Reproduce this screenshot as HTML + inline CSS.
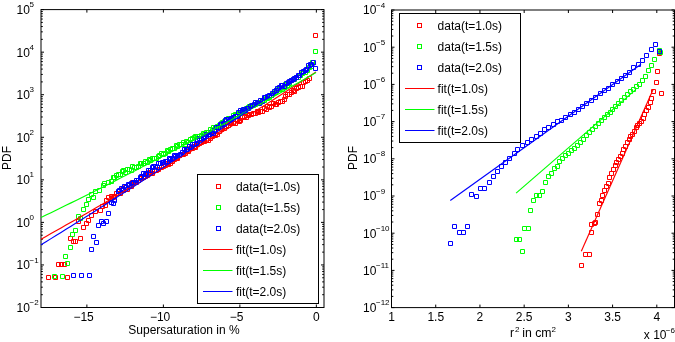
<!DOCTYPE html>
<html><head><meta charset="utf-8"><style>
html,body{margin:0;padding:0;background:#fff;}
svg{display:block;will-change:transform;}
text{font-family:"Liberation Sans", sans-serif;fill:#000;}
</style></head><body>
<svg width="675" height="342" viewBox="0 0 675 342">
<rect x="41" y="9.6" width="283" height="297.9" fill="none" stroke="#000" stroke-width="1"/>
<path d="M86.89 307.5v-3M86.89 9.6v3M163.38 307.5v-3M163.38 9.6v3M239.86 307.5v-3M239.86 9.6v3M316.35 307.5v-3M316.35 9.6v3M41 307.5h3M324 307.5h-3M41 294.69h1.8M324 294.69h-1.8M41 287.2h1.8M324 287.2h-1.8M41 281.88h1.8M324 281.88h-1.8M41 277.75h1.8M324 277.75h-1.8M41 274.38h1.8M324 274.38h-1.8M41 271.54h1.8M324 271.54h-1.8M41 269.07h1.8M324 269.07h-1.8M41 266.89h1.8M324 266.89h-1.8M41 264.94h3M324 264.94h-3M41 252.13h1.8M324 252.13h-1.8M41 244.64h1.8M324 244.64h-1.8M41 239.32h1.8M324 239.32h-1.8M41 235.2h1.8M324 235.2h-1.8M41 231.83h1.8M324 231.83h-1.8M41 228.98h1.8M324 228.98h-1.8M41 226.51h1.8M324 226.51h-1.8M41 224.33h1.8M324 224.33h-1.8M41 222.39h3M324 222.39h-3M41 209.57h1.8M324 209.57h-1.8M41 202.08h1.8M324 202.08h-1.8M41 196.76h1.8M324 196.76h-1.8M41 192.64h1.8M324 192.64h-1.8M41 189.27h1.8M324 189.27h-1.8M41 186.42h1.8M324 186.42h-1.8M41 183.95h1.8M324 183.95h-1.8M41 181.78h1.8M324 181.78h-1.8M41 179.83h3M324 179.83h-3M41 167.02h1.8M324 167.02h-1.8M41 159.52h1.8M324 159.52h-1.8M41 154.21h1.8M324 154.21h-1.8M41 150.08h1.8M324 150.08h-1.8M41 146.71h1.8M324 146.71h-1.8M41 143.86h1.8M324 143.86h-1.8M41 141.4h1.8M324 141.4h-1.8M41 139.22h1.8M324 139.22h-1.8M41 137.27h3M324 137.27h-3M41 124.46h1.8M324 124.46h-1.8M41 116.97h1.8M324 116.97h-1.8M41 111.65h1.8M324 111.65h-1.8M41 107.53h1.8M324 107.53h-1.8M41 104.16h1.8M324 104.16h-1.8M41 101.31h1.8M324 101.31h-1.8M41 98.84h1.8M324 98.84h-1.8M41 96.66h1.8M324 96.66h-1.8M41 94.71h3M324 94.71h-3M41 81.9h1.8M324 81.9h-1.8M41 74.41h1.8M324 74.41h-1.8M41 69.09h1.8M324 69.09h-1.8M41 64.97h1.8M324 64.97h-1.8M41 61.6h1.8M324 61.6h-1.8M41 58.75h1.8M324 58.75h-1.8M41 56.28h1.8M324 56.28h-1.8M41 54.1h1.8M324 54.1h-1.8M41 52.16h3M324 52.16h-3M41 39.35h1.8M324 39.35h-1.8M41 31.85h1.8M324 31.85h-1.8M41 26.54h1.8M324 26.54h-1.8M41 22.41h1.8M324 22.41h-1.8M41 19.04h1.8M324 19.04h-1.8M41 16.19h1.8M324 16.19h-1.8M41 13.72h1.8M324 13.72h-1.8M41 11.55h1.8M324 11.55h-1.8M41 9.6h3M324 9.6h-3" stroke="#000" stroke-width="1" fill="none"/>
<rect x="391.5" y="10" width="283" height="297.6" fill="none" stroke="#000" stroke-width="1"/>
<path d="M391.5 307.6v-3M391.5 10v3M435.72 307.6v-3M435.72 10v3M479.94 307.6v-3M479.94 10v3M524.16 307.6v-3M524.16 10v3M568.38 307.6v-3M568.38 10v3M612.59 307.6v-3M612.59 10v3M656.81 307.6v-3M656.81 10v3M391.5 307.6h3M674.5 307.6h-3M391.5 296.4h1.8M674.5 296.4h-1.8M391.5 289.85h1.8M674.5 289.85h-1.8M391.5 285.2h1.8M674.5 285.2h-1.8M391.5 281.6h1.8M674.5 281.6h-1.8M391.5 278.65h1.8M674.5 278.65h-1.8M391.5 276.16h1.8M674.5 276.16h-1.8M391.5 274.01h1.8M674.5 274.01h-1.8M391.5 272.1h1.8M674.5 272.1h-1.8M391.5 270.4h3M674.5 270.4h-3M391.5 259.2h1.8M674.5 259.2h-1.8M391.5 252.65h1.8M674.5 252.65h-1.8M391.5 248h1.8M674.5 248h-1.8M391.5 244.4h1.8M674.5 244.4h-1.8M391.5 241.45h1.8M674.5 241.45h-1.8M391.5 238.96h1.8M674.5 238.96h-1.8M391.5 236.81h1.8M674.5 236.81h-1.8M391.5 234.9h1.8M674.5 234.9h-1.8M391.5 233.2h3M674.5 233.2h-3M391.5 222h1.8M674.5 222h-1.8M391.5 215.45h1.8M674.5 215.45h-1.8M391.5 210.8h1.8M674.5 210.8h-1.8M391.5 207.2h1.8M674.5 207.2h-1.8M391.5 204.25h1.8M674.5 204.25h-1.8M391.5 201.76h1.8M674.5 201.76h-1.8M391.5 199.61h1.8M674.5 199.61h-1.8M391.5 197.7h1.8M674.5 197.7h-1.8M391.5 196h3M674.5 196h-3M391.5 184.8h1.8M674.5 184.8h-1.8M391.5 178.25h1.8M674.5 178.25h-1.8M391.5 173.6h1.8M674.5 173.6h-1.8M391.5 170h1.8M674.5 170h-1.8M391.5 167.05h1.8M674.5 167.05h-1.8M391.5 164.56h1.8M674.5 164.56h-1.8M391.5 162.41h1.8M674.5 162.41h-1.8M391.5 160.5h1.8M674.5 160.5h-1.8M391.5 158.8h3M674.5 158.8h-3M391.5 147.6h1.8M674.5 147.6h-1.8M391.5 141.05h1.8M674.5 141.05h-1.8M391.5 136.4h1.8M674.5 136.4h-1.8M391.5 132.8h1.8M674.5 132.8h-1.8M391.5 129.85h1.8M674.5 129.85h-1.8M391.5 127.36h1.8M674.5 127.36h-1.8M391.5 125.21h1.8M674.5 125.21h-1.8M391.5 123.3h1.8M674.5 123.3h-1.8M391.5 121.6h3M674.5 121.6h-3M391.5 110.4h1.8M674.5 110.4h-1.8M391.5 103.85h1.8M674.5 103.85h-1.8M391.5 99.2h1.8M674.5 99.2h-1.8M391.5 95.6h1.8M674.5 95.6h-1.8M391.5 92.65h1.8M674.5 92.65h-1.8M391.5 90.16h1.8M674.5 90.16h-1.8M391.5 88.01h1.8M674.5 88.01h-1.8M391.5 86.1h1.8M674.5 86.1h-1.8M391.5 84.4h3M674.5 84.4h-3M391.5 73.2h1.8M674.5 73.2h-1.8M391.5 66.65h1.8M674.5 66.65h-1.8M391.5 62h1.8M674.5 62h-1.8M391.5 58.4h1.8M674.5 58.4h-1.8M391.5 55.45h1.8M674.5 55.45h-1.8M391.5 52.96h1.8M674.5 52.96h-1.8M391.5 50.81h1.8M674.5 50.81h-1.8M391.5 48.9h1.8M674.5 48.9h-1.8M391.5 47.2h3M674.5 47.2h-3M391.5 36h1.8M674.5 36h-1.8M391.5 29.45h1.8M674.5 29.45h-1.8M391.5 24.8h1.8M674.5 24.8h-1.8M391.5 21.2h1.8M674.5 21.2h-1.8M391.5 18.25h1.8M674.5 18.25h-1.8M391.5 15.76h1.8M674.5 15.76h-1.8M391.5 13.61h1.8M674.5 13.61h-1.8M391.5 11.7h1.8M674.5 11.7h-1.8M391.5 10h3M674.5 10h-3" stroke="#000" stroke-width="1" fill="none"/>
<text x="16.6" y="311.9" font-size="12">10</text>
<text x="29.6" y="305.1" font-size="8">−2</text>
<text x="16.6" y="269.34" font-size="12">10</text>
<text x="29.6" y="262.54" font-size="8">−1</text>
<text x="16.6" y="226.79" font-size="12">10</text>
<text x="29.6" y="219.99" font-size="8">0</text>
<text x="16.6" y="184.23" font-size="12">10</text>
<text x="29.6" y="177.43" font-size="8">1</text>
<text x="16.6" y="141.67" font-size="12">10</text>
<text x="29.6" y="134.87" font-size="8">2</text>
<text x="16.6" y="99.11" font-size="12">10</text>
<text x="29.6" y="92.31" font-size="8">3</text>
<text x="16.6" y="56.56" font-size="12">10</text>
<text x="29.6" y="49.76" font-size="8">4</text>
<text x="16.6" y="14" font-size="12">10</text>
<text x="29.6" y="7.2" font-size="8">5</text>
<text x="363.1" y="312" font-size="12">10</text>
<text x="376.0" y="305.2" font-size="8">−12</text>
<text x="363.1" y="274.8" font-size="12">10</text>
<text x="376.0" y="268" font-size="8">−11</text>
<text x="363.1" y="237.6" font-size="12">10</text>
<text x="376.0" y="230.8" font-size="8">−10</text>
<text x="363.1" y="200.4" font-size="12">10</text>
<text x="376.0" y="193.6" font-size="8">−9</text>
<text x="363.1" y="163.2" font-size="12">10</text>
<text x="376.0" y="156.4" font-size="8">−8</text>
<text x="363.1" y="126" font-size="12">10</text>
<text x="376.0" y="119.2" font-size="8">−7</text>
<text x="363.1" y="88.8" font-size="12">10</text>
<text x="376.0" y="82" font-size="8">−6</text>
<text x="363.1" y="51.6" font-size="12">10</text>
<text x="376.0" y="44.8" font-size="8">−5</text>
<text x="363.1" y="14.4" font-size="12">10</text>
<text x="376.0" y="7.6" font-size="8">−4</text>
<text x="83.59" y="321.3" font-size="12" text-anchor="middle">−15</text>
<text x="160.08" y="321.3" font-size="12" text-anchor="middle">−10</text>
<text x="236.56" y="321.3" font-size="12" text-anchor="middle">−5</text>
<text x="316.35" y="321.3" font-size="12" text-anchor="middle">0</text>
<text x="391.5" y="321.3" font-size="12" text-anchor="middle">1</text>
<text x="435.72" y="321.3" font-size="12" text-anchor="middle">1.5</text>
<text x="479.94" y="321.3" font-size="12" text-anchor="middle">2</text>
<text x="524.16" y="321.3" font-size="12" text-anchor="middle">2.5</text>
<text x="568.38" y="321.3" font-size="12" text-anchor="middle">3</text>
<text x="612.59" y="321.3" font-size="12" text-anchor="middle">3.5</text>
<text x="656.81" y="321.3" font-size="12" text-anchor="middle">4</text>
<text x="184" y="333.7" font-size="12" text-anchor="middle">Supersaturation in %</text>
<text transform="translate(11.0,158) rotate(-90)" font-size="12" text-anchor="middle">PDF</text>
<text transform="translate(357.2,158) rotate(-90)" font-size="12" text-anchor="middle">PDF</text>
<text x="510" y="337" font-size="12">r</text>
<text x="515" y="331.5" font-size="8">2</text>
<text x="522.2" y="337" font-size="12.3">in cm</text>
<text x="551.6" y="331.5" font-size="8">2</text>
<text x="643.8" y="339" font-size="12">x 10</text>
<text x="665.8" y="333.3" font-size="8">−6</text>
<g>
<path d="M46.5 275.5h4v4h-4zM53.5 275.5h4v4h-4zM65.5 275.5h4v4h-4zM56.5 262.5h4v4h-4zM59.5 262.5h4v4h-4zM62.5 262.5h4v4h-4zM68.5 236.5h4v4h-4zM71.5 239.5h4v4h-4zM73.5 239.5h4v4h-4zM78.5 236.5h4v4h-4zM76.5 219.5h4v4h-4zM81.5 225.5h4v4h-4zM84.5 221.5h4v4h-4zM86.5 218.5h4v4h-4zM89.5 213.5h4v4h-4zM93.5 209.5h4v4h-4zM98.5 208.5h4v4h-4zM100.5 204.5h4v4h-4zM103.5 203.5h4v4h-4zM104.5 198.5h4v4h-4zM106.5 195.5h4v4h-4zM109.5 194.5h4v4h-4zM313.5 33.5h4v4h-4zM111.5 195.5h4v4h-4zM112.5 194.5h4v4h-4zM114.5 191.5h4v4h-4zM116.5 191.5h4v4h-4zM118.5 191.5h4v4h-4zM120.5 187.5h4v4h-4zM121.5 188.5h4v4h-4zM123.5 185.5h4v4h-4zM125.5 187.5h4v4h-4zM127.5 183.5h4v4h-4zM129.5 184.5h4v4h-4zM130.5 180.5h4v4h-4zM132.5 180.5h4v4h-4zM134.5 180.5h4v4h-4zM136.5 178.5h4v4h-4zM138.5 176.5h4v4h-4zM139.5 176.5h4v4h-4zM141.5 175.5h4v4h-4zM143.5 174.5h4v4h-4zM145.5 173.5h4v4h-4zM147.5 170.5h4v4h-4zM148.5 171.5h4v4h-4zM150.5 171.5h4v4h-4zM152.5 168.5h4v4h-4zM154.5 168.5h4v4h-4zM156.5 167.5h4v4h-4zM157.5 165.5h4v4h-4zM159.5 165.5h4v4h-4zM161.5 164.5h4v4h-4zM163.5 163.5h4v4h-4zM165.5 161.5h4v4h-4zM166.5 162.5h4v4h-4zM168.5 161.5h4v4h-4zM170.5 159.5h4v4h-4zM172.5 157.5h4v4h-4zM174.5 156.5h4v4h-4zM175.5 156.5h4v4h-4zM177.5 153.5h4v4h-4zM179.5 152.5h4v4h-4zM181.5 152.5h4v4h-4zM183.5 151.5h4v4h-4zM184.5 149.5h4v4h-4zM186.5 149.5h4v4h-4zM188.5 146.5h4v4h-4zM190.5 146.5h4v4h-4zM192.5 144.5h4v4h-4zM193.5 145.5h4v4h-4zM195.5 142.5h4v4h-4zM197.5 141.5h4v4h-4zM199.5 140.5h4v4h-4zM201.5 139.5h4v4h-4zM202.5 139.5h4v4h-4zM204.5 138.5h4v4h-4zM206.5 138.5h4v4h-4zM208.5 136.5h4v4h-4zM210.5 134.5h4v4h-4zM211.5 133.5h4v4h-4zM213.5 133.5h4v4h-4zM215.5 132.5h4v4h-4zM217.5 129.5h4v4h-4zM219.5 127.5h4v4h-4zM220.5 126.5h4v4h-4zM222.5 126.5h4v4h-4zM224.5 124.5h4v4h-4zM226.5 123.5h4v4h-4zM228.5 121.5h4v4h-4zM229.5 121.5h4v4h-4zM231.5 121.5h4v4h-4zM233.5 121.5h4v4h-4zM235.5 118.5h4v4h-4zM237.5 119.5h4v4h-4zM238.5 118.5h4v4h-4zM240.5 115.5h4v4h-4zM242.5 114.5h4v4h-4zM244.5 115.5h4v4h-4zM246.5 113.5h4v4h-4zM247.5 112.5h4v4h-4zM249.5 112.5h4v4h-4zM251.5 111.5h4v4h-4zM253.5 111.5h4v4h-4zM255.5 109.5h4v4h-4zM256.5 110.5h4v4h-4zM258.5 109.5h4v4h-4zM260.5 109.5h4v4h-4zM262.5 106.5h4v4h-4zM264.5 107.5h4v4h-4zM265.5 104.5h4v4h-4zM267.5 105.5h4v4h-4zM269.5 104.5h4v4h-4zM271.5 101.5h4v4h-4zM273.5 102.5h4v4h-4zM274.5 102.5h4v4h-4zM276.5 100.5h4v4h-4zM278.5 99.5h4v4h-4zM280.5 99.5h4v4h-4zM282.5 97.5h4v4h-4zM283.5 94.5h4v4h-4zM285.5 92.5h4v4h-4zM287.5 92.5h4v4h-4zM289.5 90.5h4v4h-4zM291.5 88.5h4v4h-4zM292.5 89.5h4v4h-4zM294.5 86.5h4v4h-4zM296.5 85.5h4v4h-4zM298.5 84.5h4v4h-4zM300.5 84.5h4v4h-4zM301.5 80.5h4v4h-4zM303.5 79.5h4v4h-4zM305.5 78.5h4v4h-4zM307.5 76.5h4v4h-4z" fill="none" stroke="#f00" stroke-width="1"/>
<path d="M52.5 274.5h4v4h-4zM60.5 274.5h4v4h-4zM63.5 254.5h4v4h-4zM65.5 261.5h4v4h-4zM68.5 245.5h4v4h-4zM70.5 232.5h4v4h-4zM73.5 228.5h4v4h-4zM76.5 214.5h4v4h-4zM78.5 216.5h4v4h-4zM81.5 207.5h4v4h-4zM84.5 202.5h4v4h-4zM86.5 197.5h4v4h-4zM89.5 192.5h4v4h-4zM91.5 195.5h4v4h-4zM93.5 189.5h4v4h-4zM97.5 188.5h4v4h-4zM101.5 183.5h4v4h-4zM102.5 181.5h4v4h-4zM106.5 180.5h4v4h-4zM109.5 179.5h4v4h-4zM313.5 49.5h4v4h-4zM111.5 175.5h4v4h-4zM112.5 175.5h4v4h-4zM114.5 173.5h4v4h-4zM116.5 172.5h4v4h-4zM118.5 172.5h4v4h-4zM120.5 169.5h4v4h-4zM121.5 168.5h4v4h-4zM123.5 170.5h4v4h-4zM125.5 167.5h4v4h-4zM127.5 167.5h4v4h-4zM129.5 168.5h4v4h-4zM130.5 164.5h4v4h-4zM132.5 165.5h4v4h-4zM134.5 165.5h4v4h-4zM136.5 164.5h4v4h-4zM138.5 161.5h4v4h-4zM139.5 161.5h4v4h-4zM141.5 161.5h4v4h-4zM143.5 159.5h4v4h-4zM145.5 160.5h4v4h-4zM147.5 157.5h4v4h-4zM148.5 158.5h4v4h-4zM150.5 156.5h4v4h-4zM152.5 156.5h4v4h-4zM154.5 156.5h4v4h-4zM156.5 154.5h4v4h-4zM157.5 153.5h4v4h-4zM159.5 151.5h4v4h-4zM161.5 152.5h4v4h-4zM163.5 151.5h4v4h-4zM165.5 148.5h4v4h-4zM166.5 149.5h4v4h-4zM168.5 147.5h4v4h-4zM170.5 146.5h4v4h-4zM172.5 146.5h4v4h-4zM174.5 143.5h4v4h-4zM175.5 144.5h4v4h-4zM177.5 142.5h4v4h-4zM179.5 142.5h4v4h-4zM181.5 140.5h4v4h-4zM183.5 142.5h4v4h-4zM184.5 139.5h4v4h-4zM186.5 140.5h4v4h-4zM188.5 137.5h4v4h-4zM190.5 136.5h4v4h-4zM192.5 135.5h4v4h-4zM193.5 134.5h4v4h-4zM195.5 134.5h4v4h-4zM197.5 134.5h4v4h-4zM199.5 133.5h4v4h-4zM201.5 131.5h4v4h-4zM202.5 132.5h4v4h-4zM204.5 130.5h4v4h-4zM206.5 130.5h4v4h-4zM208.5 127.5h4v4h-4zM210.5 128.5h4v4h-4zM211.5 125.5h4v4h-4zM213.5 125.5h4v4h-4zM215.5 124.5h4v4h-4zM217.5 123.5h4v4h-4zM219.5 121.5h4v4h-4zM220.5 120.5h4v4h-4zM222.5 119.5h4v4h-4zM224.5 117.5h4v4h-4zM226.5 116.5h4v4h-4zM228.5 117.5h4v4h-4zM229.5 116.5h4v4h-4zM231.5 113.5h4v4h-4zM233.5 112.5h4v4h-4zM235.5 112.5h4v4h-4zM237.5 110.5h4v4h-4zM238.5 111.5h4v4h-4zM240.5 108.5h4v4h-4zM242.5 109.5h4v4h-4zM244.5 106.5h4v4h-4zM246.5 105.5h4v4h-4zM247.5 104.5h4v4h-4zM249.5 103.5h4v4h-4zM251.5 103.5h4v4h-4zM253.5 102.5h4v4h-4zM255.5 101.5h4v4h-4zM256.5 100.5h4v4h-4zM258.5 100.5h4v4h-4zM260.5 98.5h4v4h-4zM262.5 98.5h4v4h-4zM264.5 96.5h4v4h-4zM265.5 96.5h4v4h-4zM267.5 95.5h4v4h-4zM269.5 93.5h4v4h-4zM271.5 91.5h4v4h-4zM273.5 90.5h4v4h-4zM274.5 88.5h4v4h-4zM276.5 87.5h4v4h-4zM278.5 86.5h4v4h-4zM280.5 87.5h4v4h-4zM282.5 85.5h4v4h-4zM283.5 82.5h4v4h-4zM285.5 83.5h4v4h-4zM287.5 81.5h4v4h-4zM289.5 78.5h4v4h-4zM291.5 77.5h4v4h-4zM292.5 77.5h4v4h-4zM294.5 75.5h4v4h-4zM296.5 75.5h4v4h-4zM298.5 73.5h4v4h-4zM300.5 71.5h4v4h-4zM301.5 70.5h4v4h-4zM303.5 70.5h4v4h-4zM305.5 68.5h4v4h-4zM307.5 65.5h4v4h-4zM309.5 64.5h4v4h-4zM310.5 60.5h4v4h-4z" fill="none" stroke="#0f0" stroke-width="1"/>
<path d="M71.5 273.5h4v4h-4zM79.5 273.5h4v4h-4zM87.5 273.5h4v4h-4zM89.5 247.5h4v4h-4zM91.5 234.5h4v4h-4zM94.5 240.5h4v4h-4zM96.5 223.5h4v4h-4zM99.5 219.5h4v4h-4zM101.5 221.5h4v4h-4zM104.5 219.5h4v4h-4zM106.5 211.5h4v4h-4zM109.5 200.5h4v4h-4zM111.5 201.5h4v4h-4zM112.5 198.5h4v4h-4zM313.5 66.5h4v4h-4zM116.5 189.5h4v4h-4zM117.5 188.5h4v4h-4zM119.5 186.5h4v4h-4zM121.5 187.5h4v4h-4zM122.5 184.5h4v4h-4zM124.5 185.5h4v4h-4zM126.5 182.5h4v4h-4zM127.5 183.5h4v4h-4zM129.5 181.5h4v4h-4zM131.5 180.5h4v4h-4zM133.5 180.5h4v4h-4zM134.5 178.5h4v4h-4zM136.5 178.5h4v4h-4zM138.5 175.5h4v4h-4zM139.5 174.5h4v4h-4zM141.5 171.5h4v4h-4zM143.5 172.5h4v4h-4zM144.5 171.5h4v4h-4zM146.5 168.5h4v4h-4zM148.5 168.5h4v4h-4zM150.5 165.5h4v4h-4zM151.5 164.5h4v4h-4zM153.5 164.5h4v4h-4zM155.5 165.5h4v4h-4zM156.5 161.5h4v4h-4zM158.5 161.5h4v4h-4zM160.5 160.5h4v4h-4zM161.5 160.5h4v4h-4zM163.5 159.5h4v4h-4zM165.5 159.5h4v4h-4zM167.5 156.5h4v4h-4zM168.5 157.5h4v4h-4zM170.5 156.5h4v4h-4zM172.5 153.5h4v4h-4zM173.5 154.5h4v4h-4zM175.5 153.5h4v4h-4zM177.5 153.5h4v4h-4zM178.5 152.5h4v4h-4zM180.5 150.5h4v4h-4zM182.5 147.5h4v4h-4zM184.5 147.5h4v4h-4zM185.5 147.5h4v4h-4zM187.5 144.5h4v4h-4zM189.5 145.5h4v4h-4zM190.5 142.5h4v4h-4zM192.5 142.5h4v4h-4zM194.5 141.5h4v4h-4zM195.5 138.5h4v4h-4zM197.5 136.5h4v4h-4zM199.5 136.5h4v4h-4zM201.5 135.5h4v4h-4zM202.5 134.5h4v4h-4zM204.5 132.5h4v4h-4zM206.5 132.5h4v4h-4zM207.5 132.5h4v4h-4zM209.5 130.5h4v4h-4zM211.5 131.5h4v4h-4zM212.5 128.5h4v4h-4zM214.5 125.5h4v4h-4zM216.5 125.5h4v4h-4zM218.5 122.5h4v4h-4zM219.5 122.5h4v4h-4zM221.5 121.5h4v4h-4zM223.5 118.5h4v4h-4zM224.5 117.5h4v4h-4zM226.5 117.5h4v4h-4zM228.5 117.5h4v4h-4zM229.5 116.5h4v4h-4zM231.5 115.5h4v4h-4zM233.5 114.5h4v4h-4zM235.5 114.5h4v4h-4zM236.5 110.5h4v4h-4zM238.5 108.5h4v4h-4zM240.5 109.5h4v4h-4zM241.5 107.5h4v4h-4zM243.5 108.5h4v4h-4zM245.5 106.5h4v4h-4zM246.5 106.5h4v4h-4zM248.5 104.5h4v4h-4zM250.5 103.5h4v4h-4zM252.5 102.5h4v4h-4zM253.5 100.5h4v4h-4zM255.5 101.5h4v4h-4zM257.5 101.5h4v4h-4zM258.5 98.5h4v4h-4zM260.5 99.5h4v4h-4zM262.5 95.5h4v4h-4zM263.5 95.5h4v4h-4zM265.5 94.5h4v4h-4zM267.5 93.5h4v4h-4zM269.5 93.5h4v4h-4zM270.5 91.5h4v4h-4zM272.5 89.5h4v4h-4zM274.5 88.5h4v4h-4zM275.5 86.5h4v4h-4zM277.5 85.5h4v4h-4zM279.5 83.5h4v4h-4zM280.5 83.5h4v4h-4zM282.5 84.5h4v4h-4zM284.5 81.5h4v4h-4zM286.5 80.5h4v4h-4zM287.5 79.5h4v4h-4zM289.5 78.5h4v4h-4zM291.5 77.5h4v4h-4zM292.5 76.5h4v4h-4zM294.5 75.5h4v4h-4zM296.5 73.5h4v4h-4zM297.5 73.5h4v4h-4zM299.5 70.5h4v4h-4zM301.5 69.5h4v4h-4zM303.5 68.5h4v4h-4zM304.5 67.5h4v4h-4zM306.5 63.5h4v4h-4zM308.5 62.5h4v4h-4zM309.5 62.5h4v4h-4zM311.5 60.5h4v4h-4z" fill="none" stroke="#00f" stroke-width="1"/>
<polyline points="41,239.2 46,236.4 51,233.58 56,230.76 61,227.93 66,225.09 71,222.24 76,219.39 81,216.52 86,213.65 91,210.76 96,207.87 101,204.97 106,202.06 111,199.14 116,196.22 121,193.28 126,190.34 131,187.39 136,184.42 141,181.45 146,178.48 151,175.49 156,172.49 161,169.49 166,166.47 171,163.45 176,160.42 181,157.38 186,154.33 191,151.27 196,148.21 201,145.13 206,142.05 211,138.96 216,135.85 221,132.74 226,129.63 231,126.5 236,123.36 241,120.22 246,117.06 251,113.9 256,110.73 261,107.55 266,104.36 271,101.17 276,97.96 281,94.75 286,91.52 291,88.29 296,85.05 301,81.8 306,78.54 311,75.28 316,72 316,72" fill="none" stroke="#f00" stroke-width="1.15"/>
<polyline points="41,217.5 46,215.08 51,212.65 56,210.22 61,207.78 66,205.33 71,202.87 76,200.4 81,197.92 86,195.44 91,192.95 96,190.45 101,187.95 106,185.43 111,182.91 116,180.38 121,177.84 126,175.29 131,172.74 136,170.17 141,167.6 146,165.02 151,162.44 156,159.84 161,157.24 166,154.63 171,152.01 176,149.39 181,146.75 186,144.11 191,141.46 196,138.8 201,136.13 206,133.46 211,130.78 216,128.09 221,125.39 226,122.68 231,119.97 236,117.24 241,114.51 246,111.77 251,109.03 256,106.27 261,103.51 266,100.74 271,97.96 276,95.18 281,92.38 286,89.58 291,86.77 296,83.95 301,81.13 306,78.29 311,75.45 316,72.6 316,72.6" fill="none" stroke="#0f0" stroke-width="1.15"/>
<polyline points="41,244.8 46,241.72 51,238.63 56,235.54 61,232.44 66,229.33 71,226.21 76,223.08 81,219.95 86,216.81 91,213.66 96,210.5 101,207.34 106,204.17 111,200.99 116,197.8 121,194.6 126,191.4 131,188.19 136,184.97 141,181.74 146,178.51 151,175.27 156,172.02 161,168.76 166,165.49 171,162.22 176,158.94 181,155.65 186,152.35 191,149.05 196,145.73 201,142.41 206,139.09 211,135.75 216,132.41 221,129.06 226,125.7 231,122.33 236,118.95 241,115.57 246,112.18 251,108.78 256,105.38 261,101.96 266,98.54 271,95.11 276,91.68 281,88.23 286,84.78 291,81.32 296,77.85 301,74.37 306,70.89 311,67.4 316,63.9 316,63.9" fill="none" stroke="#00f" stroke-width="1.15"/>
<path d="M579.5 263.5h4v4h-4zM583.5 252.5h4v4h-4zM587.5 252.5h4v4h-4zM589.5 230.5h4v4h-4zM589.5 222.5h4v4h-4zM592.5 221.5h4v4h-4zM593.5 220.5h4v4h-4zM595.5 212.5h4v4h-4zM597.5 201.5h4v4h-4zM599.5 198.5h4v4h-4zM600.5 193.5h4v4h-4zM602.5 188.5h4v4h-4zM604.5 184.5h4v4h-4zM606.5 181.5h4v4h-4zM607.5 175.5h4v4h-4zM609.5 171.5h4v4h-4zM611.5 167.5h4v4h-4zM613.5 163.5h4v4h-4zM614.5 160.5h4v4h-4zM616.5 157.5h4v4h-4zM618.5 154.5h4v4h-4zM620.5 151.5h4v4h-4zM621.5 147.5h4v4h-4zM623.5 144.5h4v4h-4zM625.5 140.5h4v4h-4zM627.5 137.5h4v4h-4zM628.5 134.5h4v4h-4zM630.5 132.5h4v4h-4zM632.5 129.5h4v4h-4zM634.5 125.5h4v4h-4zM635.5 123.5h4v4h-4zM637.5 121.5h4v4h-4zM639.5 119.5h4v4h-4zM641.5 116.5h4v4h-4zM642.5 112.5h4v4h-4zM644.5 108.5h4v4h-4zM646.5 105.5h4v4h-4zM648.5 100.5h4v4h-4zM649.5 96.5h4v4h-4zM651.5 89.5h4v4h-4zM654.5 80.5h4v4h-4zM655.5 69.5h4v4h-4zM659.5 91.5h4v4h-4zM657.5 51.5h4v4h-4z" fill="none" stroke="#f00" stroke-width="1"/>
<path d="M514.5 237.5h4v4h-4zM517.5 237.5h4v4h-4zM520.5 249.5h4v4h-4zM522.5 226.5h4v4h-4zM526.5 226.5h4v4h-4zM528.5 208.5h4v4h-4zM531.5 198.5h4v4h-4zM534.5 193.5h4v4h-4zM537.5 193.5h4v4h-4zM540.5 189.5h4v4h-4zM543.5 180.5h4v4h-4zM546.5 174.5h4v4h-4zM549.5 171.5h4v4h-4zM552.5 166.5h4v4h-4zM555.5 164.5h4v4h-4zM557.5 159.5h4v4h-4zM560.5 156.5h4v4h-4zM563.5 153.5h4v4h-4zM566.5 151.5h4v4h-4zM569.5 148.5h4v4h-4zM572.5 146.5h4v4h-4zM575.5 143.5h4v4h-4zM578.5 140.5h4v4h-4zM581.5 137.5h4v4h-4zM584.5 133.5h4v4h-4zM587.5 130.5h4v4h-4zM590.5 127.5h4v4h-4zM593.5 124.5h4v4h-4zM596.5 121.5h4v4h-4zM599.5 118.5h4v4h-4zM602.5 115.5h4v4h-4zM605.5 112.5h4v4h-4zM608.5 110.5h4v4h-4zM610.5 107.5h4v4h-4zM613.5 104.5h4v4h-4zM616.5 101.5h4v4h-4zM619.5 98.5h4v4h-4zM622.5 95.5h4v4h-4zM625.5 92.5h4v4h-4zM628.5 89.5h4v4h-4zM631.5 87.5h4v4h-4zM634.5 84.5h4v4h-4zM637.5 82.5h4v4h-4zM640.5 78.5h4v4h-4zM643.5 74.5h4v4h-4zM646.5 68.5h4v4h-4zM649.5 63.5h4v4h-4zM652.5 57.5h4v4h-4zM657.5 48.5h4v4h-4zM658.5 50.5h4v4h-4z" fill="none" stroke="#0f0" stroke-width="1"/>
<path d="M448.5 241.5h4v4h-4zM452.5 224.5h4v4h-4zM457.5 230.5h4v4h-4zM461.5 230.5h4v4h-4zM465.5 224.5h4v4h-4zM469.5 192.5h4v4h-4zM474.5 194.5h4v4h-4zM478.5 186.5h4v4h-4zM482.5 186.5h4v4h-4zM487.5 180.5h4v4h-4zM491.5 174.5h4v4h-4zM495.5 169.5h4v4h-4zM499.5 164.5h4v4h-4zM503.5 160.5h4v4h-4zM507.5 156.5h4v4h-4zM512.5 151.5h4v4h-4zM515.5 147.5h4v4h-4zM520.5 143.5h4v4h-4zM525.5 140.5h4v4h-4zM529.5 137.5h4v4h-4zM534.5 134.5h4v4h-4zM538.5 131.5h4v4h-4zM542.5 127.5h4v4h-4zM546.5 125.5h4v4h-4zM551.5 122.5h4v4h-4zM555.5 119.5h4v4h-4zM559.5 118.5h4v4h-4zM563.5 115.5h4v4h-4zM568.5 112.5h4v4h-4zM572.5 110.5h4v4h-4zM576.5 107.5h4v4h-4zM580.5 104.5h4v4h-4zM584.5 101.5h4v4h-4zM589.5 98.5h4v4h-4zM593.5 95.5h4v4h-4zM598.5 91.5h4v4h-4zM602.5 88.5h4v4h-4zM606.5 86.5h4v4h-4zM610.5 82.5h4v4h-4zM615.5 79.5h4v4h-4zM619.5 76.5h4v4h-4zM623.5 73.5h4v4h-4zM627.5 70.5h4v4h-4zM631.5 65.5h4v4h-4zM636.5 62.5h4v4h-4zM640.5 58.5h4v4h-4zM644.5 53.5h4v4h-4zM649.5 47.5h4v4h-4zM653.5 42.5h4v4h-4zM657.5 49.5h4v4h-4z" fill="none" stroke="#00f" stroke-width="1"/>
<polyline points="581.3,251.3 653,89.8" fill="none" stroke="#f00" stroke-width="1.15"/>
<polyline points="516.1,193.1 636,89.4" fill="none" stroke="#0f0" stroke-width="1.15"/>
<polyline points="450.3,200.5 641,64.2" fill="none" stroke="#00f" stroke-width="1.15"/>
</g>
<rect x="197.5" y="174.5" width="121" height="129" fill="#fff" stroke="#000" stroke-width="1"/>
<rect x="216.5" y="184.5" width="4" height="4" fill="none" stroke="#f00" stroke-width="1"/>
<text x="235.9" y="190.75" font-size="12">data(t=1.0s)</text>
<rect x="216.5" y="205.5" width="4" height="4" fill="none" stroke="#0f0" stroke-width="1"/>
<text x="235.9" y="211.8" font-size="12">data(t=1.5s)</text>
<rect x="216.5" y="226.5" width="4" height="4" fill="none" stroke="#00f" stroke-width="1"/>
<text x="235.9" y="232.85" font-size="12">data(t=2.0s)</text>
<line x1="203" y1="249.5" x2="232.5" y2="249.5" stroke="#f00" stroke-width="1"/>
<text x="235.9" y="253.9" font-size="12">fit(t=1.0s)</text>
<line x1="203" y1="270.5" x2="232.5" y2="270.5" stroke="#0f0" stroke-width="1"/>
<text x="235.9" y="274.95" font-size="12">fit(t=1.5s)</text>
<line x1="203" y1="291.5" x2="232.5" y2="291.5" stroke="#00f" stroke-width="1"/>
<text x="235.9" y="296" font-size="12">fit(t=2.0s)</text>
<rect x="399.5" y="13.5" width="121" height="129" fill="#fff" stroke="#000" stroke-width="1"/>
<rect x="417.5" y="23.5" width="4" height="4" fill="none" stroke="#f00" stroke-width="1"/>
<text x="437.6" y="29.75" font-size="12">data(t=1.0s)</text>
<rect x="417.5" y="44.5" width="4" height="4" fill="none" stroke="#0f0" stroke-width="1"/>
<text x="437.6" y="50.8" font-size="12">data(t=1.5s)</text>
<rect x="417.5" y="65.5" width="4" height="4" fill="none" stroke="#00f" stroke-width="1"/>
<text x="437.6" y="71.85" font-size="12">data(t=2.0s)</text>
<line x1="405" y1="88.5" x2="434.5" y2="88.5" stroke="#f00" stroke-width="1"/>
<text x="437.6" y="92.9" font-size="12">fit(t=1.0s)</text>
<line x1="405" y1="109.5" x2="434.5" y2="109.5" stroke="#0f0" stroke-width="1"/>
<text x="437.6" y="113.95" font-size="12">fit(t=1.5s)</text>
<line x1="405" y1="130.5" x2="434.5" y2="130.5" stroke="#00f" stroke-width="1"/>
<text x="437.6" y="135" font-size="12">fit(t=2.0s)</text>
</svg></body></html>
